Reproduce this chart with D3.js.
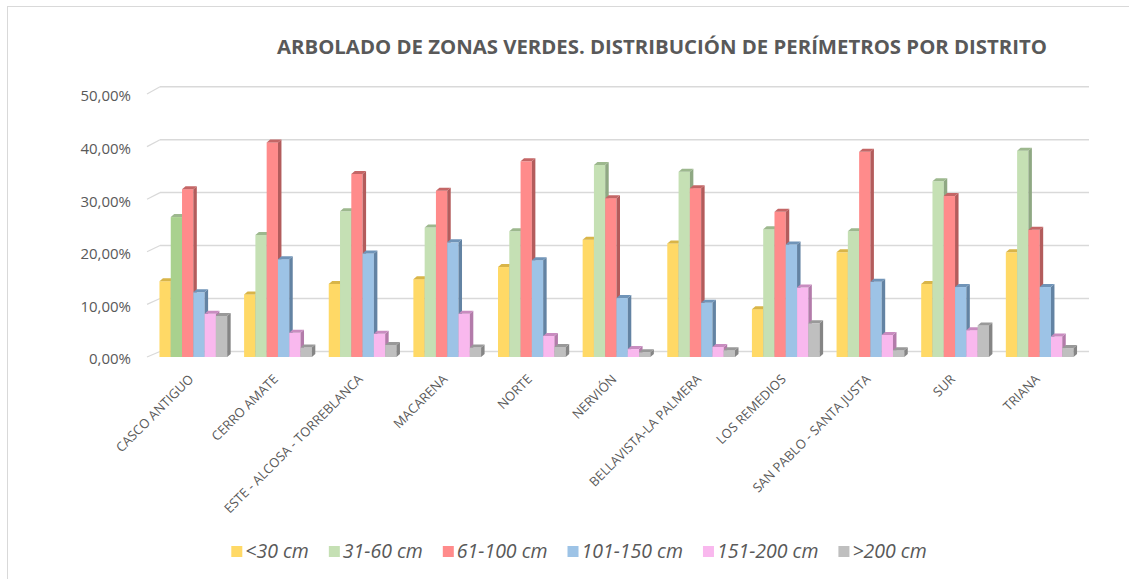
<!DOCTYPE html>
<html>
<head>
<meta charset="utf-8">
<script src="https://cdn.jsdelivr.net/npm/d3@7"></script>
<style>
  body { margin: 0; background: #fff; }
  text { font-family: "Open Sans", sans-serif; fill: #595959; }
</style>
</head>
<body>
<script>
var districts = ["CASCO ANTIGUO", "CERRO AMATE", "ESTE - ALCOSA - TORREBLANCA", "MACARENA", "NORTE",
                 "NERVIÓN", "BELLAVISTA-LA PALMERA", "LOS REMEDIOS", "SAN PABLO - SANTA JUSTA", "SUR", "TRIANA"];
var sizeClasses = ["<30 cm", "31-60 cm", "61-100 cm", "101-150 cm", "151-200 cm", ">200 cm"];

// porcentaje de árboles por clase de perímetro
var under30   = [14.4, 11.9, 13.9, 14.8, 17.1, 22.3, 21.6,  9.1, 19.9, 13.9, 19.9];
var from31    = [26.6, 23.2, 27.7, 24.6, 23.9, 36.5, 35.2, 24.3, 23.9, 33.4, 39.2];
var from61    = [31.9, 40.8, 34.8, 31.6, 37.2, 30.2, 32.1, 27.6, 39.0, 30.6, 24.2];
var from101   = [12.3, 18.6, 19.7, 21.8, 18.4, 11.2, 10.3, 21.4, 14.3, 13.3, 13.3];
var from151   = [ 8.2,  4.6,  4.4,  8.2,  4.0,  1.5,  1.9, 13.2,  4.2,  5.1,  3.9];
var over200   = [ 7.8,  1.8,  2.3,  1.8,  1.9,  0.9,  1.3,  6.4,  1.3,  6.0,  1.7];
var series = [under30, from31, from61, from101, from151, over200];

var yTicks = [0, 0.1, 0.2, 0.3, 0.4, 0.5];

var colors = ["#FFD966", "#C5E0B4", "#FF8B8B", "#9DC3E6", "#F9B8EE", "#BFBFBF"];
var sideColors = ["#BF9F45", "#8FA883", "#B35C5C", "#6383A3", "#B37BAA", "#858585"];
var topColors = ["#D9B548", "#9DB88E", "#C46666", "#7094B8", "#C98CC0", "#999999"];

var W = 1129, H = 579;
var depthX = 3.5, depthY = 3;

var svg = d3.select("body").append("svg")
    .attr("width", W)
    .attr("height", H);

// marco del gráfico
svg.append("rect")
   .attr("x", 7.5).attr("y", 6.5)
   .attr("width", W + 10).attr("height", H + 10)
   .attr("fill", "none")
   .attr("stroke", "#D9D9D9");

var yFront = d3.scaleLinear().domain([0, 0.5]).range([357, 94]);
var yBack = d3.scaleLinear().domain([0, 0.5]).range([351.5, 86.7]);

var x0 = d3.scaleBand()
    .domain(districts)
    .range([151, 1082])
    .paddingInner(0.2)
    .paddingOuter(0.1);

var x1 = d3.scaleBand()
    .domain(d3.range(sizeClasses.length))
    .range([0, x0.bandwidth()]);

// rejilla en la pared del fondo
svg.append("g").selectAll("line")
   .data(yTicks)
   .enter()
   .append("line")
   .attr("x1", 160).attr("x2", 1089)
   .attr("y1", function(d){ return yBack(d); })
   .attr("y2", function(d){ return yBack(d); })
   .attr("stroke", "#D9D9D9")
   .attr("stroke-width", 1.5);

svg.append("g").selectAll("line")
   .data(yTicks)
   .enter()
   .append("line")
   .attr("x1", 147).attr("x2", 160)
   .attr("y1", function(d){ return yFront(d); })
   .attr("y2", function(d){ return yBack(d); })
   .attr("stroke", "#D9D9D9")
   .attr("stroke-width", 1.2);

// eje Y
var locale = d3.formatLocale({decimal: ",", thousands: ".", grouping: [3], currency: ["", " €"]});
var yAxis = d3.axisLeft(yFront)
    .tickValues(yTicks)
    .tickSize(0)
    .tickPadding(0)
    .tickFormat(locale.format(".2%"));

var gy = svg.append("g")
   .attr("transform", "translate(131,2)")
   .call(yAxis);
gy.select(".domain").remove();
gy.selectAll("text")
  .attr("font-size", "15px")
  .attr("font-family", "Open Sans, sans-serif")
  .attr("fill", "#595959");

// barras 3D
var rows = [];
districts.forEach(function(name, i){
  series.forEach(function(vals, s){
    rows.push({district: name, s: s, i: i, v: vals[i] / 100});
  });
});

var bars = svg.append("g").selectAll("g")
   .data(rows)
   .enter()
   .append("g");

function fillFront(d){
  if (d.i === 0 && d.s === 1) return "#A9D18E";
  return colors[d.s];
}

bars.append("rect")
    .attr("x", function(d){ return x0(d.district) + x1(d.s); })
    .attr("y", function(d){ return yFront(d.v); })
    .attr("width", x1.bandwidth())
    .attr("height", function(d){ return yFront(0) - yFront(d.v); })
    .attr("fill", fillFront);

bars.append("path")
    .attr("d", function(d){
      var xr = x0(d.district) + x1(d.s) + x1.bandwidth(),
          yt = yFront(d.v), yb = yFront(0);
      return "M" + xr + "," + yt + "L" + (xr + depthX) + "," + (yt - depthY) +
             "L" + (xr + depthX) + "," + (yb - depthY) + "L" + xr + "," + yb + "Z";
    })
    .attr("fill", function(d){ return sideColors[d.s]; });

bars.append("path")
    .attr("d", function(d){
      var xl = x0(d.district) + x1(d.s), xr = xl + x1.bandwidth(),
          yt = yFront(d.v);
      return "M" + xl + "," + yt + "L" + (xl + depthX) + "," + (yt - depthY) +
             "L" + (xr + depthX) + "," + (yt - depthY) + "L" + xr + "," + yt + "Z";
    })
    .attr("fill", function(d){ return topColors[d.s]; });

// etiquetas de distrito
svg.append("g").selectAll("text")
   .data(districts)
   .enter()
   .append("text")
   .attr("transform", function(d){
     return "translate(" + (x0(d) + x0.bandwidth() / 2 + 1) + ",380) rotate(-45)";
   })
   .attr("text-anchor", "end")
   .attr("font-size", "13px")
   .text(function(d){ return d; });

// título
svg.append("text")
   .attr("x", 662)
   .attr("y", 54)
   .attr("text-anchor", "middle")
   .attr("font-size", "20px")
   .attr("font-weight", "bold")
   .attr("textLength", 770)
   .attr("lengthAdjust", "spacingAndGlyphs")
   .text("ARBOLADO DE ZONAS VERDES. DISTRIBUCIÓN DE PERÍMETROS POR DISTRITO");

// leyenda
var legend = svg.append("g");
var lx = 0;
sizeClasses.forEach(function(name, s){
  var item = legend.append("g").attr("transform", "translate(" + lx + ",0)");
  item.append("rect")
      .attr("x", 0).attr("y", -12)
      .attr("width", 11).attr("height", 11)
      .attr("fill", colors[s]);
  var t = item.append("text")
      .attr("x", 14).attr("y", 0)
      .attr("font-size", "19.5px")
      .attr("font-style", "italic")
      .text(name);
  lx += 14 + t.node().getComputedTextLength() + 20;
});
lx -= 20;
legend.attr("transform", "translate(" + (579 - lx / 2) + ",558)");
</script>
</body>
</html>
